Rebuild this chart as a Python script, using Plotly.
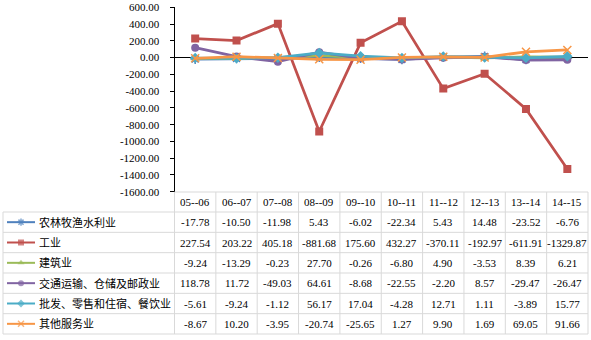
import plotly.graph_objects as go

categories = ["05--06", "06--07", "07--08", "08--09", "09--10",
              "10--11", "11--12", "12--13", "13--14", "14--15"]
series_names = ["农林牧渔水利业", "工业", "建筑业", "交通运输、仓储及邮政业",
                "批发、零售和住宿、餐饮业", "其他服务业"]
agriculture = [-17.78, -10.50, -11.98, 5.43, -6.02, -22.34, 5.43, 14.48, -23.52, -6.76]
industry = [227.54, 203.22, 405.18, -881.68, 175.60, 432.27, -370.11, -192.97, -611.91, -1329.87]
construction = [-9.24, -13.29, -0.23, 27.70, -0.26, -6.80, 4.90, -3.53, 8.39, 6.21]
transport = [118.78, 11.72, -49.03, 64.61, -8.68, -22.55, -2.20, 8.57, -29.47, -26.47]
trade = [-5.61, -9.24, -1.12, 56.17, 17.04, -4.28, 12.71, 1.11, -3.89, 15.77]
other_services = [-8.67, 10.20, -3.95, -20.74, -25.65, 1.27, 9.90, 1.69, 69.05, 91.66]
y_ticks = [600, 400, 200, 0, -200, -400, -600, -800, -1000, -1200, -1400, -1600]

series = [agriculture, industry, construction, transport, trade, other_services]
colors = ["#4F81BD", "#C0504D", "#9BBB59", "#8064A2", "#4BACC6", "#F79646"]
symbols = ["asterisk-open", "square", "triangle-up", "circle", "diamond", "x-thin-open"]

W, H = 591, 340
def px(x): return x / W
def py(y): return 1 - y / H

AX_L, AX_R = 174.5, 588.0
PLOT_T, PLOT_B = 7.3, 191.7
TAB_T, ROW_T, TAB_B = 192.0, 212.0, 334.0
row_h = (TAB_B - ROW_T) / 6
col_w = (AX_R - AX_L) / len(categories)
SERIF = "Liberation Serif, Times New Roman, Noto Sans CJK SC, serif"
GRID = "#D9D9D9"

fig = go.Figure()

def marker_for(i, size):
    sym = symbols[i]
    if sym.endswith("-open"):
        return dict(symbol=sym, size=size, color=colors[i],
                    line=dict(color=colors[i], width=1.5))
    return dict(symbol=sym, size=size, color=colors[i], line=dict(width=0))

for i, (name, vals) in enumerate(zip(series_names, series)):
    fig.add_trace(go.Scatter(
        x=categories, y=vals, name=name, mode="lines+markers",
        line=dict(color=colors[i], width=2.75),
        marker=marker_for(i, 8),
        xaxis="x", yaxis="y", showlegend=False))

# legend keys in the table's left column
for i in range(len(series_names)):
    m = marker_for(i, 6)
    m["size"] = [0, 6, 0]
    fig.add_trace(go.Scatter(
        x=[0, 0.5, 1], y=[i + 0.5] * 3, mode="lines+markers",
        line=dict(color=colors[i], width=2), marker=m,
        xaxis="x2", yaxis="y2", showlegend=False, hoverinfo="skip"))

shapes = []
shapes.append(dict(type="line", xref="paper", yref="paper",
                   x0=px(AX_L), x1=px(AX_R), y0=py(TAB_T), y1=py(TAB_T),
                   line=dict(color=GRID, width=1)))
for r in range(7):
    yy = ROW_T + r * row_h
    shapes.append(dict(type="line", xref="paper", yref="paper",
                       x0=px(3), x1=px(AX_R), y0=py(yy), y1=py(yy),
                       line=dict(color=GRID, width=1)))
shapes.append(dict(type="line", xref="paper", yref="paper",
                   x0=px(3), x1=px(3), y0=py(ROW_T), y1=py(TAB_B),
                   line=dict(color=GRID, width=1)))
for k in range(len(categories) + 1):
    xx = AX_L + k * col_w
    shapes.append(dict(type="line", xref="paper", yref="paper",
                       x0=px(xx), x1=px(xx), y0=py(TAB_T), y1=py(TAB_B),
                       line=dict(color=GRID, width=1)))

annotations = []
for c in categories:
    annotations.append(dict(x=c, xref="x", y=py((TAB_T + ROW_T) / 2), yref="paper",
                            text=c, showarrow=False, xanchor="center", yanchor="middle",
                            font=dict(family=SERIF, size=11, color="black")))
for r, (name, vals) in enumerate(zip(series_names, series)):
    yc = py(ROW_T + (r + 0.5) * row_h)
    annotations.append(dict(x=px(37), xref="paper", y=yc, yref="paper", text=name,
                            showarrow=False, xanchor="left", yanchor="middle",
                            font=dict(family=SERIF, size=11, color="black")))
    for c, v in zip(categories, vals):
        annotations.append(dict(x=c, xref="x", y=yc, yref="paper", text=f"{v:.2f}",
                                showarrow=False, xanchor="center", yanchor="middle",
                                font=dict(family=SERIF, size=11, color="black")))

fig.update_layout(
    width=W, height=H, margin=dict(l=0, r=0, t=0, b=0, pad=0),
    paper_bgcolor="white", plot_bgcolor="white",
    xaxis=dict(domain=[px(AX_L), px(AX_R)], type="category", range=[-0.5, 9.5],
               showticklabels=False, showgrid=False, zeroline=False, showline=False,
               ticks="", automargin=False),
    yaxis=dict(domain=[py(PLOT_B), py(PLOT_T)], range=[-1600, 600],
               tickvals=y_ticks, ticktext=[f"{t:.2f}" for t in y_ticks],
               showgrid=False, zeroline=True, zerolinecolor="black", zerolinewidth=1,
               showline=True, linecolor="black", linewidth=1,
               ticks="outside", ticklen=4, tickcolor="black", tickwidth=1,
               ticklabelstandoff=8, automargin=False,
               tickfont=dict(family=SERIF, size=11, color="black")),
    xaxis2=dict(domain=[px(7), px(35)], range=[0, 1], visible=False),
    yaxis2=dict(domain=[py(TAB_B), py(ROW_T)], range=[6, 0], visible=False),
    shapes=shapes, annotations=annotations,
)

fig.write_html("out.html", config={"displayModeBar": False},
               post_script="document.body.style.margin='0';document.body.style.overflow='hidden';")
